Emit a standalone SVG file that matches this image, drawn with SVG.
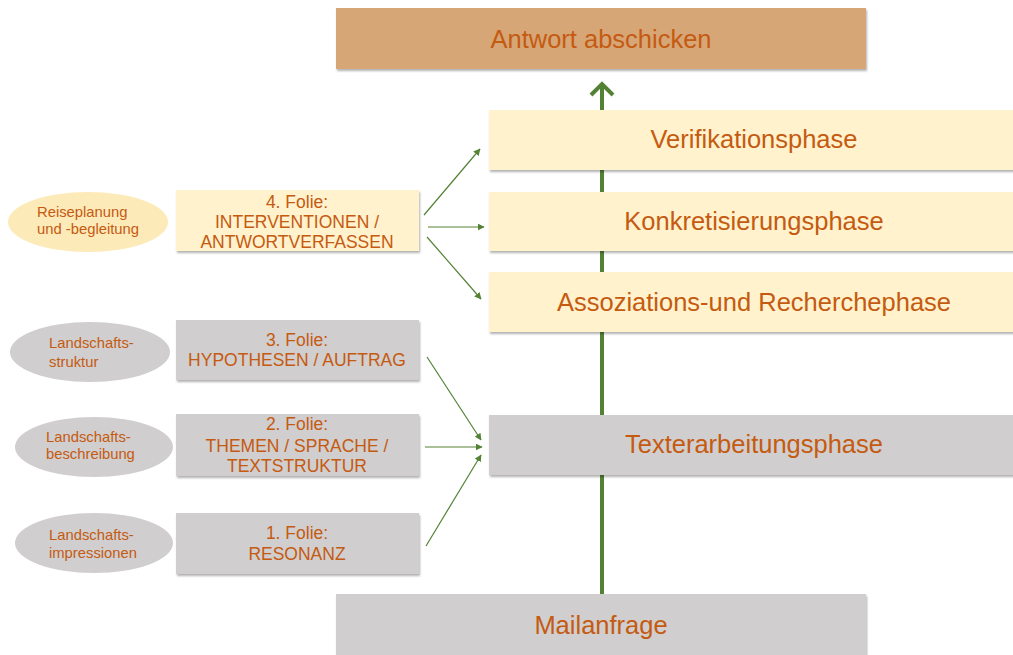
<svg xmlns="http://www.w3.org/2000/svg" width="1013" height="655" viewBox="0 0 1013 655">
<defs>
<filter id="sh" x="-5%" y="-10%" width="110%" height="130%">
<feDropShadow dx="1" dy="2" stdDeviation="1.2" flood-color="#000" flood-opacity="0.3"/>
</filter>
<marker id="ah" viewBox="0 0 10 10" refX="9" refY="5" markerWidth="7" markerHeight="7" markerUnits="userSpaceOnUse" orient="auto">
<path d="M0,0 L10,5 L0,10 z" fill="#548235"/>
</marker>
</defs>
<style>
.t{font-family:"Liberation Sans",Arial,sans-serif;fill:#C55A11;text-anchor:middle}
.big{font-size:25.5px}
.mid{font-size:17.5px}
.sm{font-family:"Liberation Sans",Arial,sans-serif;fill:#C55A11;font-size:14.8px}
.yel{fill:#FFF2CC}
.gry{fill:#D0CECE}
.tan{fill:#D6A677}
.ey{fill:#FDEAB9}
.eg{fill:#D0CECE}
.ar{stroke:#548235;stroke-width:1.2;fill:none;marker-end:url(#ah)}
</style>
<rect width="1013" height="655" fill="#fff"/>

<g id="connectors">
<line x1="602" y1="594" x2="602" y2="84" stroke="#548235" stroke-width="4"/>
<polyline points="591,95 602,84 613,95" stroke="#548235" stroke-width="4" fill="none"/>
<line class="ar" x1="424" y1="215" x2="480" y2="149"/>
<line class="ar" x1="428" y1="227" x2="484" y2="227"/>
<line class="ar" x1="427" y1="237" x2="481" y2="299"/>
<line class="ar" x1="427" y1="357" x2="481" y2="440"/>
<line class="ar" x1="425" y1="447" x2="482" y2="447"/>
<line class="ar" x1="426" y1="546" x2="481" y2="455"/>
</g>

<g id="antwort">
<rect class="tan" x="336" y="8" width="530" height="61" filter="url(#sh)"/>
<text class="t big" x="601" y="48">Antwort abschicken</text>
</g>
<g id="verifikation">
<rect class="yel" x="489" y="110" width="530" height="60" filter="url(#sh)"/>
<text class="t big" x="754" y="148">Verifikationsphase</text>
</g>
<g id="konkretisierung">
<rect class="yel" x="489" y="192" width="530" height="59" filter="url(#sh)"/>
<text class="t big" x="754" y="230">Konkretisierungsphase</text>
</g>
<g id="assoziation">
<rect class="yel" x="489" y="272" width="530" height="60" filter="url(#sh)"/>
<text class="t big" x="754" y="311">Assoziations-und Recherchephase</text>
</g>
<g id="texterarbeitung">
<rect class="gry" x="489" y="415" width="530" height="60" filter="url(#sh)"/>
<text class="t big" x="754" y="453">Texterarbeitungsphase</text>
</g>
<g id="mailanfrage">
<rect class="gry" x="336" y="594" width="530" height="70" filter="url(#sh)"/>
<text class="t big" x="601" y="634">Mailanfrage</text>
</g>

<g id="folie4">
<rect class="yel" x="176" y="190" width="243" height="61" filter="url(#sh)"/>
<text class="t mid" x="297" y="208">4. Folie:</text>
<text class="t mid" x="297" y="228">INTERVENTIONEN /</text>
<text class="t mid" x="297" y="248">ANTWORTVERFASSEN</text>
</g>
<g id="folie3">
<rect class="gry" x="176" y="320" width="243" height="60" filter="url(#sh)"/>
<text class="t mid" x="297" y="346">3. Folie:</text>
<text class="t mid" x="297" y="366">HYPOTHESEN / AUFTRAG</text>
</g>
<g id="folie2">
<rect class="gry" x="176" y="414" width="243" height="62" filter="url(#sh)"/>
<text class="t mid" x="297" y="430">2. Folie:</text>
<text class="t mid" x="297" y="452">THEMEN / SPRACHE /</text>
<text class="t mid" x="297" y="472">TEXTSTRUKTUR</text>
</g>
<g id="folie1">
<rect class="gry" x="176" y="513" width="243" height="61" filter="url(#sh)"/>
<text class="t mid" x="297" y="539">1. Folie:</text>
<text class="t mid" x="297" y="560">RESONANZ</text>
</g>

<g id="reiseplanung">
<ellipse class="ey" cx="88" cy="222" rx="80" ry="30"/>
<text class="sm" x="37" y="217">Reiseplanung</text>
<text class="sm" x="37" y="234">und -begleitung</text>
</g>
<g id="struktur">
<ellipse class="eg" cx="90" cy="352" rx="80" ry="30"/>
<text class="sm" x="49" y="348">Landschafts-</text>
<text class="sm" x="49" y="367">struktur</text>
</g>
<g id="beschreibung">
<ellipse class="eg" cx="94" cy="447" rx="79" ry="30"/>
<text class="sm" x="46" y="442">Landschafts-</text>
<text class="sm" x="46" y="459">beschreibung</text>
</g>
<g id="impressionen">
<ellipse class="eg" cx="94" cy="543" rx="79" ry="30"/>
<text class="sm" x="49" y="540">Landschafts-</text>
<text class="sm" x="49" y="558">impressionen</text>
</g>
</svg>
